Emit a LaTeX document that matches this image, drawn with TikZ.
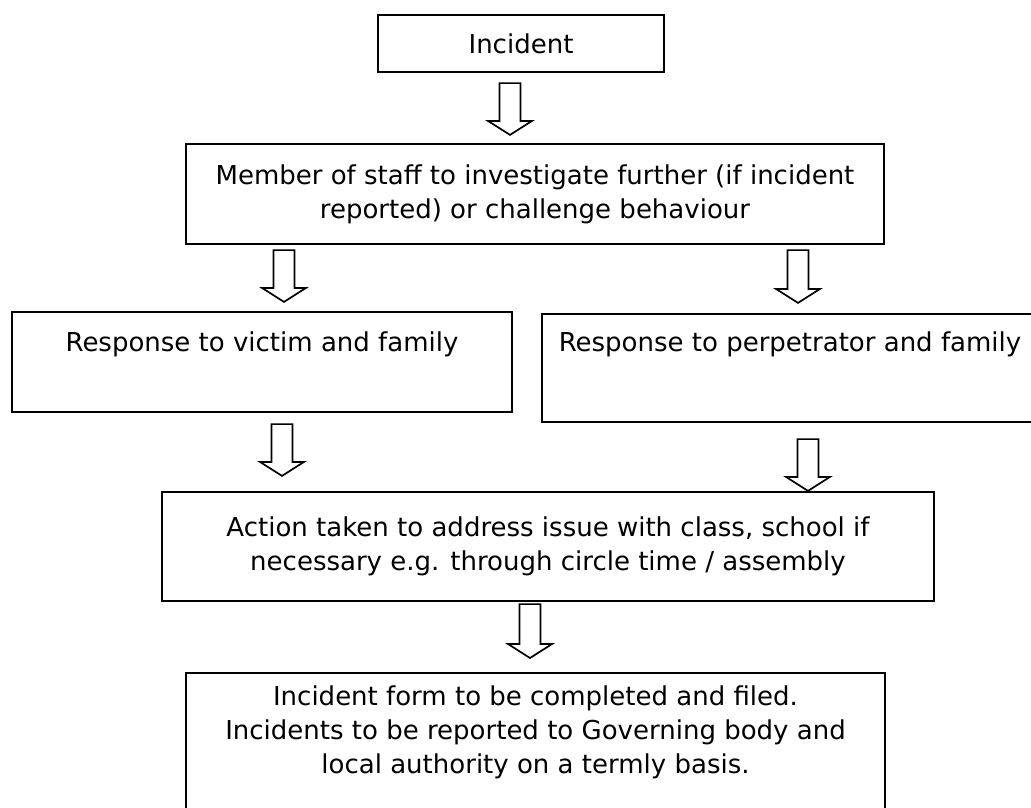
\documentclass[tikz,border=0pt]{standalone}
\usepackage{fontspec}
\setmainfont{DejaVu Sans}
\usetikzlibrary{calc}
\tikzset{
  box/.style={draw, line width=2.2pt, align=center, inner sep=0pt},
  boxlabel/.style={anchor=north, inner sep=2pt, align=center},
  blockarrow/.style={draw, line width=1.7pt, fill=white, line join=miter}
}
\begin{document}
\begin{tikzpicture}[x=1pt, y=-1pt, font=\fontsize{26}{34}\selectfont]
\useasboundingbox (0,0) rectangle (1031,807);
\clip (0,0) rectangle (1031,807);

% boxes
\node[box, minimum width=286, minimum height=57] (inc) at (521,43.5) {Incident};
\node[box, minimum width=698, minimum height=100] (staff) at (535,194)
  {Member of staff to investigate further (if incident\\reported) or challenge behaviour};
\node[box, minimum width=500, minimum height=100,
  label={[boxlabel, yshift=-19]north:{Response to victim and family}}] (victim) at (262,362) {};
\node[box, minimum width=496, minimum height=108,
  label={[boxlabel, yshift=-17]north:{Response to perpetrator and family}}] (perp) at (790,368) {};
\node[box, minimum width=772, minimum height=109] (action) at (548,546.5)
  {Action taken to address issue with class, school if\\necessary e.g. through circle time / assembly};
\node[box, anchor=north, minimum width=699, minimum height=170,
  label={[boxlabel, yshift=-12]north:{Incident form to be completed and filed.\\Incidents to be reported to Governing body and\\local authority on a termly basis.}}] (filed) at (535.5,672) {};

% block arrows
\foreach \src/\dst/\ax/\g/\h in {inc/staff/510/10/8, staff/victim/284/5/9, staff/perp/798/5/10,
    victim/action/282/11/15, perp/action/808/16/0, action/filed/530/2/14}
  \draw[blockarrow] let \p1=(\src.south), \p2=(\dst.north) in
    (\ax pt-10.5pt, \y1-\g pt) -- (\ax pt+10.5pt, \y1-\g pt)
    -- (\ax pt+10.5pt, \y2+\h pt+14pt) -- (\ax pt+22pt, \y2+\h pt+14pt)
    -- (\ax pt, \y2+\h pt) -- (\ax pt-22pt, \y2+\h pt+14pt)
    -- (\ax pt-10.5pt, \y2+\h pt+14pt) -- cycle;
\end{tikzpicture}
\end{document}
